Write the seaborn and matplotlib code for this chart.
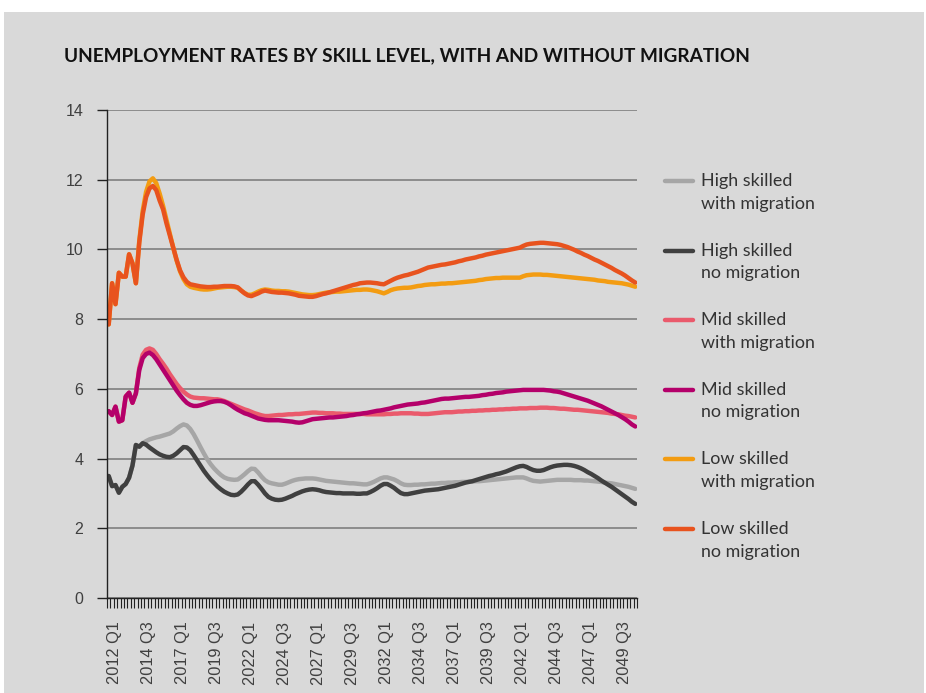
import matplotlib
matplotlib.use("Agg")
import matplotlib.pyplot as plt
import matplotlib.transforms as mtransforms
from matplotlib.patches import Rectangle
from matplotlib.lines import Line2D
import numpy as np
import pandas as pd
import seaborn as sns

# ---------------- data ----------------
title = "UNEMPLOYMENT RATES BY SKILL LEVEL, WITH AND WITHOUT MIGRATION"
quarters = [f"{y} Q{q}" for y in range(2012, 2051) for q in range(1, 5)]  # 2012 Q1 .. 2050 Q4

series_names = ["High skilled\nwith migration", "High skilled\nno migration",
                "Mid skilled\nwith migration", "Mid skilled\nno migration",
                "Low skilled\nwith migration", "Low skilled\nno migration"]
series_colors = ["#a6a6a6", "#404040", "#ea5a6c", "#b4006a", "#f39c12", "#e8531e"]

high_with = [3.5, 3.21, 3.24, 3.02, 3.19, 3.27, 3.45, 3.8, 4.39, 4.34,
             4.44, 4.5, 4.55, 4.58, 4.61, 4.63, 4.66, 4.69, 4.72, 4.78,
             4.86, 4.93, 4.98, 4.95, 4.85, 4.7, 4.52, 4.33, 4.15, 3.98,
             3.84, 3.72, 3.62, 3.53, 3.46, 3.42, 3.4, 3.39, 3.4, 3.47,
             3.55, 3.64, 3.71, 3.7, 3.6, 3.48, 3.38, 3.32, 3.29, 3.27,
             3.25, 3.25, 3.28, 3.32, 3.36, 3.39, 3.41, 3.42, 3.43, 3.43,
             3.43, 3.42, 3.4, 3.38, 3.36, 3.35, 3.34, 3.33, 3.32, 3.31,
             3.3, 3.29, 3.29, 3.28, 3.27, 3.26, 3.26, 3.29, 3.33, 3.38,
             3.43, 3.46, 3.46, 3.43, 3.4, 3.35, 3.29, 3.25, 3.24, 3.24,
             3.25, 3.25, 3.26, 3.26, 3.27, 3.28, 3.28, 3.29, 3.3, 3.3,
             3.31, 3.31, 3.32, 3.32, 3.33, 3.33, 3.34, 3.34, 3.35, 3.35,
             3.36, 3.37, 3.38, 3.39, 3.4, 3.41, 3.42, 3.43, 3.44, 3.45,
             3.46, 3.46, 3.46, 3.43, 3.39, 3.36, 3.35, 3.34, 3.35, 3.36,
             3.37, 3.38, 3.39, 3.39, 3.39, 3.39, 3.39, 3.38, 3.38, 3.38,
             3.37, 3.37, 3.36, 3.35, 3.34, 3.33, 3.31, 3.3, 3.29, 3.27,
             3.25, 3.23, 3.21, 3.19, 3.16, 3.13]

high_no = [3.5, 3.21, 3.24, 3.02, 3.19, 3.27, 3.45, 3.8, 4.39, 4.34,
           4.44, 4.4, 4.32, 4.25, 4.18, 4.12, 4.08, 4.05, 4.04, 4.08,
           4.15, 4.24, 4.33, 4.32, 4.24, 4.1, 3.95, 3.8, 3.65, 3.52,
           3.4, 3.3, 3.2, 3.12, 3.05, 3.0, 2.96, 2.95, 2.97, 3.05,
           3.15, 3.26, 3.35, 3.35, 3.25, 3.13, 3.0, 2.9, 2.85, 2.82,
           2.81, 2.82, 2.85, 2.89, 2.93, 2.98, 3.02, 3.06, 3.09, 3.11,
           3.12, 3.11, 3.09, 3.06, 3.04, 3.03, 3.02, 3.01, 3.01, 3.0,
           3.0, 3.0, 3.0, 2.99, 2.99, 3.0, 3.0, 3.04, 3.09, 3.15,
           3.22, 3.27, 3.27, 3.22, 3.16, 3.08, 3.01, 2.98, 2.98, 3.0,
           3.02, 3.04, 3.06, 3.08, 3.09, 3.1, 3.11, 3.12, 3.14, 3.16,
           3.18, 3.2, 3.22, 3.25, 3.28, 3.31, 3.33, 3.35, 3.38, 3.41,
           3.44, 3.47, 3.5, 3.52, 3.55, 3.57, 3.6, 3.63, 3.67, 3.71,
           3.75, 3.78, 3.79, 3.76, 3.71, 3.67, 3.65, 3.65, 3.67, 3.71,
           3.75, 3.78, 3.8, 3.81, 3.82, 3.82, 3.81, 3.79, 3.76, 3.72,
           3.67, 3.61, 3.56, 3.5, 3.44, 3.37, 3.31, 3.25, 3.19, 3.12,
           3.05, 2.98, 2.91, 2.84, 2.76, 2.7]

mid_with = [5.36, 5.25, 5.49, 5.06, 5.1, 5.78, 5.89, 5.6, 5.87, 6.6,
            6.98, 7.12, 7.16, 7.12, 7.0, 6.85, 6.72, 6.58, 6.42, 6.28,
            6.14, 6.02, 5.92, 5.84, 5.78, 5.75, 5.74, 5.73, 5.73, 5.72,
            5.71, 5.7, 5.7, 5.68, 5.65, 5.61, 5.57, 5.53, 5.49, 5.45,
            5.41, 5.38, 5.34, 5.3, 5.27, 5.24, 5.22, 5.22, 5.23, 5.24,
            5.25, 5.25, 5.26, 5.27, 5.27, 5.28, 5.28, 5.29, 5.3, 5.31,
            5.32, 5.32, 5.31, 5.31, 5.3, 5.3, 5.3, 5.29, 5.29, 5.28,
            5.28, 5.28, 5.28, 5.28, 5.28, 5.28, 5.27, 5.27, 5.27, 5.27,
            5.27, 5.27, 5.28, 5.28, 5.29, 5.29, 5.3, 5.3, 5.3, 5.3,
            5.29, 5.29, 5.28, 5.28, 5.28, 5.29, 5.3, 5.31, 5.32, 5.33,
            5.33, 5.33, 5.34, 5.35, 5.35, 5.36, 5.36, 5.37, 5.37, 5.38,
            5.38, 5.39, 5.39, 5.4, 5.4, 5.41, 5.41, 5.42, 5.42, 5.43,
            5.43, 5.44, 5.44, 5.44, 5.45, 5.45, 5.45, 5.46, 5.46, 5.46,
            5.45, 5.45, 5.44, 5.43, 5.43, 5.42, 5.41, 5.4, 5.4, 5.39,
            5.38, 5.37, 5.36, 5.35, 5.34, 5.33, 5.32, 5.31, 5.29, 5.28,
            5.27, 5.25, 5.23, 5.22, 5.2, 5.18]

mid_no = [5.36, 5.25, 5.49, 5.06, 5.1, 5.78, 5.89, 5.6, 5.87, 6.54,
          6.88, 7.0, 7.04, 6.97, 6.85, 6.7, 6.55, 6.4, 6.25, 6.1,
          5.95, 5.82, 5.7, 5.6, 5.54, 5.51, 5.51, 5.53, 5.56, 5.59,
          5.62, 5.64, 5.65, 5.65, 5.63, 5.59, 5.53, 5.46, 5.4, 5.35,
          5.3, 5.27, 5.23, 5.19, 5.15, 5.13, 5.11, 5.1, 5.1, 5.1,
          5.1, 5.09, 5.08, 5.07, 5.06, 5.04, 5.03, 5.04, 5.07, 5.1,
          5.13, 5.14, 5.15, 5.16, 5.17, 5.18, 5.18, 5.19, 5.2, 5.21,
          5.22, 5.24, 5.25, 5.27, 5.28, 5.3, 5.31, 5.33, 5.35, 5.37,
          5.38, 5.4, 5.42, 5.44, 5.47, 5.49, 5.51, 5.53, 5.55, 5.56,
          5.57, 5.58, 5.6, 5.61, 5.63, 5.65, 5.67, 5.69, 5.71, 5.72,
          5.72, 5.73, 5.74, 5.75, 5.76, 5.77, 5.77, 5.78, 5.79, 5.8,
          5.82, 5.83, 5.85, 5.86, 5.88, 5.89, 5.9, 5.92, 5.93, 5.94,
          5.95, 5.96, 5.97, 5.97, 5.97, 5.97, 5.97, 5.97, 5.97, 5.96,
          5.95, 5.93, 5.92, 5.9, 5.87, 5.84, 5.81, 5.78, 5.75, 5.72,
          5.69, 5.66, 5.62, 5.58, 5.54, 5.5, 5.45, 5.4, 5.35, 5.3,
          5.25, 5.19, 5.13, 5.06, 4.98, 4.92]

low_with = [7.85, 9.03, 8.43, 9.33, 9.22, 9.22, 9.86, 9.6, 9.03, 10.25,
            11.1, 11.65, 11.95, 12.04, 11.9, 11.6, 11.25, 10.85, 10.45, 10.05,
            9.68, 9.37, 9.15, 9.0, 8.93, 8.9, 8.88, 8.86, 8.85, 8.85,
            8.86, 8.88, 8.9, 8.91, 8.92, 8.93, 8.93, 8.92, 8.9, 8.82,
            8.75, 8.7, 8.7, 8.74, 8.79, 8.83, 8.85, 8.84, 8.82, 8.81,
            8.81, 8.8, 8.8, 8.79, 8.77, 8.75, 8.73, 8.71, 8.7, 8.69,
            8.69, 8.7, 8.72, 8.74, 8.76, 8.77, 8.78, 8.79, 8.79, 8.8,
            8.81, 8.82, 8.83, 8.84, 8.84, 8.85, 8.85, 8.84, 8.82, 8.8,
            8.77, 8.74, 8.78, 8.83, 8.86, 8.88, 8.89, 8.9, 8.9, 8.91,
            8.93, 8.95, 8.96, 8.98, 8.99, 9.0, 9.0, 9.01, 9.02, 9.02,
            9.03, 9.03, 9.04, 9.05, 9.06, 9.07, 9.08, 9.09, 9.1, 9.12,
            9.13, 9.15, 9.16, 9.17, 9.18, 9.18, 9.19, 9.19, 9.19, 9.19,
            9.19, 9.19, 9.23, 9.26, 9.27, 9.28, 9.28, 9.28, 9.27, 9.27,
            9.26, 9.25, 9.24, 9.23, 9.22, 9.21, 9.2, 9.19, 9.18, 9.17,
            9.16, 9.15, 9.14, 9.13, 9.11, 9.1, 9.09, 9.07, 9.06, 9.05,
            9.04, 9.03, 9.01, 8.99, 8.96, 8.93]

low_no = [7.85, 9.03, 8.43, 9.33, 9.22, 9.22, 9.86, 9.6, 9.03, 10.2,
          11.0, 11.5, 11.75, 11.82, 11.7, 11.4, 11.15, 10.75, 10.4, 10.05,
          9.7, 9.4, 9.2, 9.07, 9.0, 8.98, 8.96, 8.94, 8.93, 8.92,
          8.92, 8.93, 8.93, 8.94, 8.95, 8.95, 8.95, 8.94, 8.91, 8.82,
          8.74, 8.68, 8.66, 8.7, 8.74, 8.79, 8.82, 8.8, 8.78, 8.77,
          8.76, 8.76, 8.75, 8.74, 8.72, 8.7, 8.67, 8.66, 8.65, 8.64,
          8.64, 8.66, 8.69, 8.72, 8.74, 8.77, 8.8, 8.83, 8.86, 8.89,
          8.92, 8.95, 8.98, 9.0, 9.03, 9.04, 9.05, 9.05, 9.04, 9.03,
          9.01, 9.0, 9.05, 9.1, 9.15, 9.19, 9.22, 9.25, 9.27, 9.3,
          9.33, 9.36, 9.4, 9.44, 9.48, 9.5, 9.52, 9.54, 9.56, 9.57,
          9.59, 9.61, 9.63, 9.66, 9.68, 9.71, 9.73, 9.75, 9.77, 9.8,
          9.82, 9.85, 9.87, 9.89, 9.91, 9.93, 9.95, 9.97, 9.99, 10.01,
          10.03, 10.05, 10.1, 10.14, 10.16, 10.17, 10.18, 10.19, 10.19, 10.18,
          10.17, 10.16, 10.15, 10.13, 10.1, 10.07, 10.03, 9.99, 9.94, 9.9,
          9.85, 9.81, 9.76, 9.71, 9.67, 9.62, 9.57, 9.52, 9.47, 9.41,
          9.36, 9.31, 9.25, 9.18, 9.11, 9.05]

y_ticks = [0, 2, 4, 6, 8, 10, 12, 14]
label_every = 10

# ---------------- build long table ----------------
all_values = [high_with, high_no, mid_with, mid_no, low_with, low_no]
frames = []
for name, vals in zip(series_names, all_values):
    frames.append(pd.DataFrame({"pos": np.arange(len(vals)), "quarter": quarters[:len(vals)],
                                "rate": vals, "series": name}))
df = pd.concat(frames, ignore_index=True)

# ---------------- figure ----------------
sns.set_theme(style="white")
plt.rcParams["font.family"] = ["Liberation Sans", "DejaVu Sans"]
plt.rcParams["xtick.bottom"] = True
plt.rcParams["ytick.left"] = True

W, H = 926, 693
fig = plt.figure(figsize=(W / 100, H / 100), dpi=100)
fig.patch.set_facecolor("white")
fig.add_artist(Rectangle((4 / W, 0), (W - 6) / W, (H - 12) / H, transform=fig.transFigure,
                         facecolor="#d9d9d9", edgecolor="none", zorder=-10))

def fx(px):
    return px / W

def fy(py):
    return 1 - py / H

ax = fig.add_axes([fx(107), fy(598), (637 - 107) / W, (598 - 110) / H])
ax.set_facecolor("none")

sns.lineplot(data=df, x="pos", y="rate", hue="series", hue_order=series_names,
             palette=series_colors, linewidth=3.2, ax=ax, legend=False,
             estimator=None, sort=False)

n = len(quarters)
ax.set_xlim(-0.5, n - 0.5)
ax.set_ylim(0, 14)
ax.set_yticks(y_ticks)
ax.set_yticklabels([str(t) for t in y_ticks], fontsize=11.5, color="#404040")
ax.yaxis.grid(True, color="#8c8c8c", linewidth=1.4)
ax.xaxis.grid(False)
ax.set_axisbelow(True)

major = list(range(0, n, label_every))
ax.set_xticks(major)
ax.set_xticklabels([quarters[i] for i in major], rotation=90, fontsize=11.8, color="#404040")
ax.set_xticks(np.arange(-0.5, n, 1.0), minor=True)
ax.tick_params(axis="x", which="major", bottom=True, length=0, pad=17)
ax.tick_params(axis="x", which="minor", bottom=True, length=7, width=0.8, color="#222222",
               direction="out")
ax.tick_params(axis="y", which="major", left=True, length=7, width=1.0, color="#222222",
               pad=10, direction="out")
offset = mtransforms.ScaledTranslation(6 / 100, 0, fig.dpi_scale_trans)
for lab in ax.get_xticklabels():
    lab.set_transform(lab.get_transform() + offset)

ax.set_xlabel("")
ax.set_ylabel("")
for side in ["top", "right"]:
    ax.spines[side].set_visible(False)
for side in ["left", "bottom"]:
    ax.spines[side].set_color("#222222")
    ax.spines[side].set_linewidth(1.0)

# title
fig.text(fx(64), fy(56), title, fontsize=13.7, fontweight="bold", color="#111111",
         family=["Lato", "DejaVu Sans"], ha="left", va="center")

# legend (line aligned with first text line)
for i, (name, col) in enumerate(zip(series_names, series_colors)):
    y0 = 181 + i * 69.6
    fig.add_artist(Line2D([fx(665), fx(693)], [fy(y0), fy(y0)], color=col, linewidth=3.2,
                          transform=fig.transFigure))
    first, second = name.split("\n")
    fig.text(fx(701), fy(y0), first, fontsize=12.9, color="#333333",
             family=["Lato", "DejaVu Sans"], ha="left", va="center")
    fig.text(fx(701), fy(y0 + 22.5), second, fontsize=12.9, color="#333333",
             family=["Lato", "DejaVu Sans"], ha="left", va="center")

fig.savefig("out.png", dpi=100, facecolor=fig.get_facecolor())
